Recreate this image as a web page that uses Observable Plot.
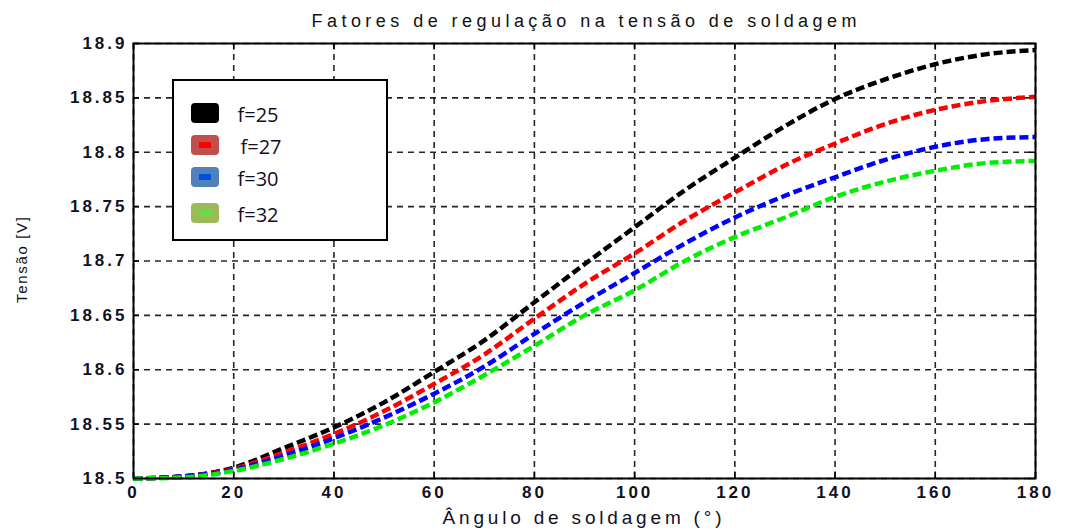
<!DOCTYPE html>
<html>
<head>
<meta charset="utf-8">
<script src="https://cdn.jsdelivr.net/npm/d3@7"></script>
<script src="https://cdn.jsdelivr.net/npm/@observablehq/plot@0.6"></script>
<style>
  html, body { margin: 0; padding: 0; background: #fff; }
  svg { display: block; }
</style>
</head>
<body>
<div id="chart"></div>
<script>
// ---- data ----
const angles = [0, 10, 20, 30, 40, 50, 60, 70, 80, 90, 100, 110, 120, 130, 140, 150, 160, 170, 180];
const f25 = [18.500, 18.502, 18.510, 18.528, 18.547, 18.570, 18.598, 18.627, 18.662, 18.697, 18.731, 18.765, 18.795, 18.824, 18.849, 18.867, 18.881, 18.890, 18.894];
const f27 = [18.500, 18.502, 18.509, 18.524, 18.541, 18.562, 18.587, 18.614, 18.647, 18.679, 18.707, 18.737, 18.763, 18.788, 18.808, 18.826, 18.839, 18.847, 18.851];
const f30 = [18.500, 18.502, 18.508, 18.521, 18.537, 18.556, 18.578, 18.603, 18.633, 18.662, 18.689, 18.716, 18.740, 18.760, 18.777, 18.793, 18.805, 18.812, 18.814];
const f32 = [18.500, 18.501, 18.507, 18.518, 18.532, 18.549, 18.570, 18.595, 18.622, 18.650, 18.673, 18.700, 18.722, 18.740, 18.759, 18.773, 18.783, 18.790, 18.792];
const seriesNames = ["f=25", "f=27", "f=30", "f=32"];
const seriesValues = [f25, f27, f30, f32];
const lineColors = ["#000000", "#ff0000", "#0000ff", "#00ee00"];
const swatchFills = ["#000000", "#c0504d", "#4f81bd", "#9bbb59"];
const swatchInner = ["#000000", "#ff0000", "#0050e0", "#66dd44"];
const xTicks = [0, 20, 40, 60, 80, 100, 120, 140, 160, 180];
const yTicks = [18.5, 18.55, 18.6, 18.65, 18.7, 18.75, 18.8, 18.85, 18.9];
const titleText = "Fatores de regulação na tensão de soldagem";
const xLabel = "Ângulo de soldagem (°)";
const yLabel = "Tensão [V]";

// ---- build table ----
const rows = [];
seriesNames.forEach((name, i) => {
  angles.forEach((a, j) => rows.push({ series: name, angle: a, v: seriesValues[i][j] }));
});

const font = "'Liberation Sans', Arial, sans-serif";

const chart = Plot.plot({
  width: 1065,
  height: 529,
  marginLeft: 133,
  marginRight: 30,
  marginTop: 43,
  marginBottom: 51,
  style: { fontFamily: font, background: "#fff", overflow: "visible" },
  x: { domain: [0, 180], ticks: xTicks },
  y: { domain: [18.5, 18.9], ticks: yTicks },
  color: { domain: seriesNames, range: lineColors },
  marks: [
    Plot.gridX(xTicks, { stroke: "#000", strokeOpacity: 0.85, strokeWidth: 1.6, strokeDasharray: "6,5" }),
    Plot.gridY(yTicks, { stroke: "#000", strokeOpacity: 0.85, strokeWidth: 1.6, strokeDasharray: "6,5" }),
    Plot.ruleX(xTicks, { y1: 18.5, y2: 18.506, stroke: "#000", strokeWidth: 1.5 }),
    Plot.ruleX(xTicks, { y1: 18.894, y2: 18.9, stroke: "#000", strokeWidth: 1.5 }),
    Plot.ruleY(yTicks, { x1: 0, x2: 1.2, stroke: "#000", strokeWidth: 1.5 }),
    Plot.ruleY(yTicks, { x1: 178.8, x2: 180, stroke: "#000", strokeWidth: 1.5 }),
    Plot.line(rows, {
      x: "angle", y: "v", z: "series", stroke: "series",
      strokeWidth: 4.5, strokeDasharray: "9,4", strokeLinecap: "butt",
      strokeLinejoin: "miter", curve: "monotone-x"
    }),
    Plot.frame({ stroke: "#000", strokeWidth: 2 }),
    Plot.axisX(xTicks, {
      tickSize: 0, tickPadding: 7, fontSize: 17, label: null,
      tickFormat: d => String(d), fill: "#111122"
    }),
    Plot.axisY(yTicks, {
      tickSize: 0, tickPadding: 6, fontSize: 17, label: null,
      tickFormat: d => String(+d.toFixed(2)), fill: "#111122"
    })
  ]
});

document.getElementById("chart").appendChild(chart);

const svg = d3.select(chart);
// letter spacing / weight for tick labels to mimic original rendering
svg.selectAll("[aria-label='x-axis tick label'] text, [aria-label='y-axis tick label'] text")
  .style("letter-spacing", "3px")
  .style("font-weight", "600");

// title
svg.append("text")
  .attr("x", 584).attr("y", 27)
  .attr("text-anchor", "middle")
  .attr("font-family", font).attr("font-size", 18)
  .attr("textLength", 545).attr("lengthAdjust", "spacing")
  .attr("fill", "#111")
  .text(titleText);

// x label
svg.append("text")
  .attr("x", 582).attr("y", 524)
  .attr("text-anchor", "middle")
  .attr("font-family", font).attr("font-size", 19)
  .attr("textLength", 279).attr("lengthAdjust", "spacing")
  .attr("fill", "#111122")
  .text(xLabel);

// y label
svg.append("text")
  .attr("transform", "translate(27,260) rotate(-90)")
  .attr("text-anchor", "middle")
  .attr("font-family", font).attr("font-size", 15)
  .attr("textLength", 86).attr("lengthAdjust", "spacing")
  .attr("fill", "#111122")
  .text(yLabel);

// legend
const lg = svg.append("g");
lg.append("rect")
  .attr("x", 173).attr("y", 80).attr("width", 214).attr("height", 160)
  .attr("fill", "#fff").attr("stroke", "#000").attr("stroke-width", 2);
const swY = [103, 135, 167, 203];
const txX = [258, 261, 258, 258];
seriesNames.forEach((name, i) => {
  lg.append("rect")
    .attr("x", 191).attr("y", swY[i]).attr("width", 28).attr("height", 20)
    .attr("rx", 4).attr("fill", swatchFills[i]);
  lg.append("rect")
    .attr("x", 199).attr("y", swY[i] + 7).attr("width", 12).attr("height", 6)
    .attr("fill", swatchInner[i]);
  lg.append("text")
    .attr("x", txX[i]).attr("y", swY[i] + 19)
    .attr("font-family", "'Open Sans', " + font).attr("font-size", 20)
    .attr("fill", "#111122")
    .text(name);
});
</script>
</body>
</html>
